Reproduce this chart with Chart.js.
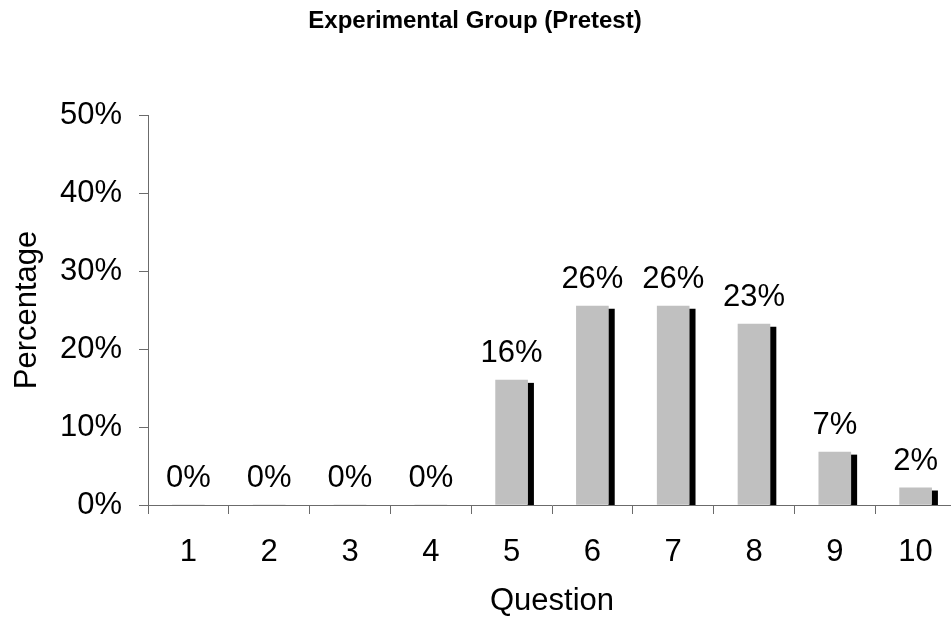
<!DOCTYPE html>
<html><head><meta charset="utf-8">
<script src="https://cdn.jsdelivr.net/npm/chart.js@4"></script>
<style>html,body{margin:0;padding:0;background:#fff;overflow:hidden;width:951px;height:620px}canvas{display:block}</style>
</head><body>
<canvas id="c" width="956" height="620"></canvas>
<script>
const categories = ['1','2','3','4','5','6','7','8','9','10'];
const percentages = [0, 0, 0, 0, 16.0, 25.5, 25.5, 23.2, 6.8, 2.2];
const yTickLabels = ['0%','10%','20%','30%','40%','50%'];
const chartTitle = 'Experimental Group (Pretest)';
const xTitle = 'Question';
const yTitle = 'Percentage';

const FONT = "'Liberation Sans', Arial, sans-serif";
const FS = 31;
const AXIS = '#6b6b6b';
const SHIFT_X = 0.2351; // shadow offset, in categories
const SHIFT_Y = 0.385;  // shadow drop, in value units

const labelPlugin = {
  id: 'valueLabels',
  afterDatasetsDraw(chart) {
    const meta = chart.getDatasetMeta(0);
    const ctx = chart.ctx;
    ctx.save();
    ctx.font = FS + 'px ' + FONT;
    ctx.fillStyle = '#000';
    ctx.textAlign = 'center';
    ctx.textBaseline = 'alphabetic';
    meta.data.forEach((el, i) => {
      ctx.fillText(Math.round(percentages[i]) + '%', el.x, el.y - 18);
    });
    ctx.restore();
  }
};

new Chart(document.getElementById('c'), {
  type: 'bar',
  data: {
    labels: categories,
    datasets: [
      {label: 'Percentage', data: percentages, backgroundColor: '#c0c0c0', barThickness: 32,
       xAxisID: 'x', yAxisID: 'y', grouped: false, order: 0},
      {label: 'Shadow', data: percentages, backgroundColor: '#000000', barThickness: 6,
       xAxisID: 'x2', yAxisID: 'y2', grouped: false, clip: 0, order: 1}
    ]
  },
  options: {
    responsive: false, animation: false, devicePixelRatio: 1,
    layout: {padding: {left: -6, right: 0, top: 0, bottom: 0}},
    plugins: {
      legend: {display: false},
      tooltip: {enabled: false},
      title: {display: true, text: chartTitle, color: '#000',
        font: {family: FONT, size: 24, weight: 'bold', lineHeight: 1.2},
        padding: {top: 6.5, bottom: 79.7}}
    },
    scales: {
      x: {
        type: 'category', offset: true, position: 'bottom',
        grid: {offset: true, drawOnChartArea: false, drawTicks: true, tickLength: 9, color: AXIS, tickColor: AXIS},
        border: {color: AXIS, width: 1},
        ticks: {color: '#000', font: {family: FONT, size: FS}, padding: 20, maxRotation: 0, autoSkip: false},
        title: {display: true, text: xTitle, color: '#000', font: {family: FONT, size: FS}, padding: {top: 0, bottom: 0}},
        afterFit(s) { s.height = 115; }
      },
      y: {
        type: 'linear', min: 0, max: 50, position: 'left',
        ticks: {stepSize: 10, color: '#000', font: {family: FONT, size: FS}, padding: 17,
          callback: (v, i) => yTickLabels[i]},
        grid: {drawOnChartArea: false, tickLength: 9, color: AXIS, tickColor: AXIS},
        border: {color: AXIS, width: 1},
        title: {display: true, text: yTitle, color: '#000', font: {family: FONT, size: FS}, padding: {top: 15, bottom: 0}},
        afterFit(s) { s.width = 154; }
      },
      x2: {type: 'linear', display: false, offset: false,
           min: 0.5 - SHIFT_X, max: categories.length + 0.5 - SHIFT_X},
      y2: {type: 'linear', display: false, min: SHIFT_Y, max: 50 + SHIFT_Y}
    }
  },
  plugins: [labelPlugin]
});
</script>
</body></html>
